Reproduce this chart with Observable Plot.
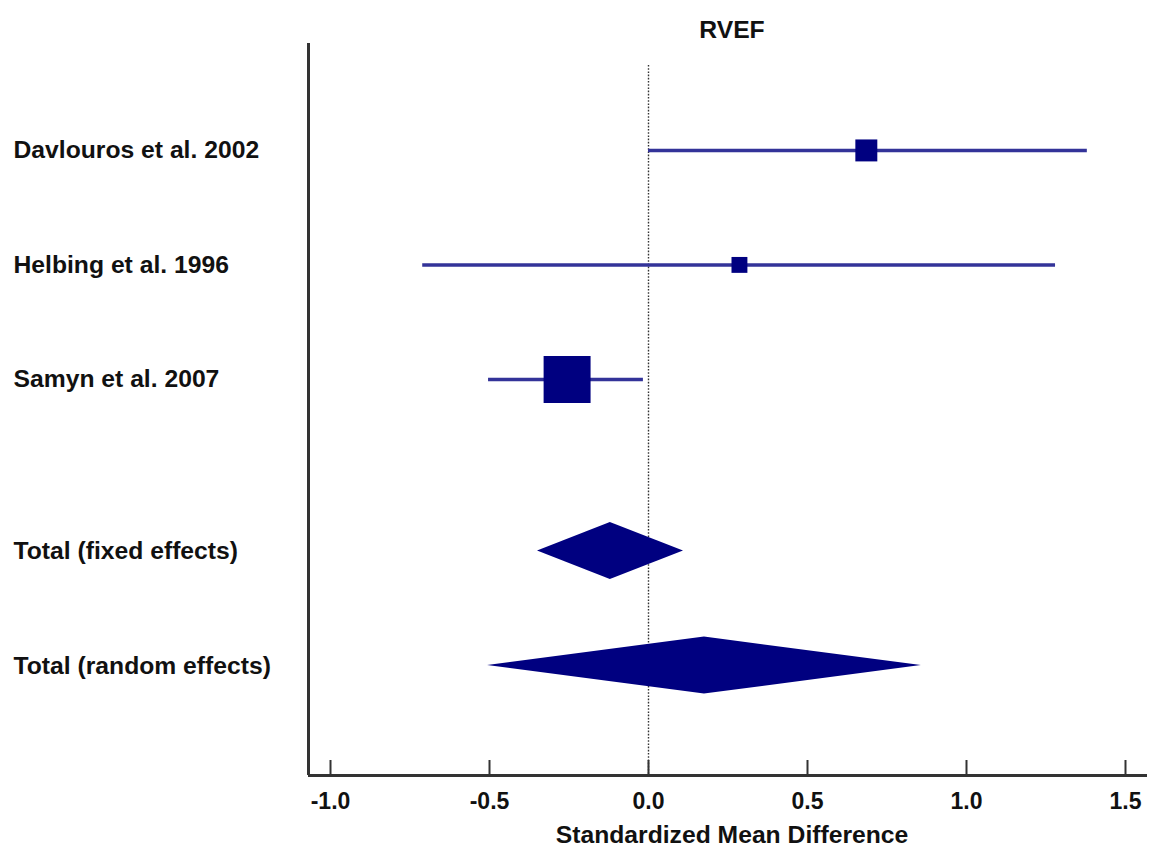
<!DOCTYPE html>
<html>
<head>
<meta charset="utf-8">
<script src="https://cdn.jsdelivr.net/npm/d3@7"></script>
<script src="https://cdn.jsdelivr.net/npm/@observablehq/plot@0.6"></script>
<style>
  html, body { margin: 0; padding: 0; background: #fff; }
  #chart svg { display: block; }
</style>
</head>
<body>
<div id="chart"></div>
<script>
// ---- Data ----
const studies = ["Davlouros et al. 2002", "Helbing et al. 1996", "Samyn et al. 2007"];
const studyEst = [0.685, 0.286, -0.256];
const studyLo = [0.0, -0.71, -0.503];
const studyHi = [1.38, 1.28, -0.016];
const studyWeight = [16.4, 8.6, 75.0];
const studyRow = [1, 2, 3];

const pooled = ["Total (fixed effects)", "Total (random effects)"];
const pooledEst = [-0.12, 0.176];
const pooledLo = [-0.349, -0.506];
const pooledHi = [0.11, 0.858];
const pooledRow = [4.5, 5.5];

const xTicks = [-1.0, -0.5, 0.0, 0.5, 1.0, 1.5];
const titleText = "RVEF";
const xLabel = "Standardized Mean Difference";

// ---- Layout / style ----
const W = 1154, H = 852;
const mTop = 43, mBottom = 77, mLeft = 308, mRight = 7;
const xDomain = [-1.0692, 1.5692];
const yDomain = [0.066, 6.46];
const plotH = H - mTop - mBottom;
const pxToY = (yDomain[1] - yDomain[0]) / plotH;
const font = "'Liberation Sans', Arial, Helvetica, sans-serif";

const studyData = studies.map((s, i) => ({
  label: s, est: studyEst[i], lo: studyLo[i], hi: studyHi[i], w: studyWeight[i], row: studyRow[i]
}));
const pooledData = pooled.map((s, i) => ({
  label: s, est: pooledEst[i], lo: pooledLo[i], hi: pooledHi[i], row: pooledRow[i]
}));
const halfH = 28.5 * pxToY;
const diamondPts = pooledData.flatMap(d => [
  {z: d.label, y: d.row - halfH, x1: d.est, x2: d.est},
  {z: d.label, y: d.row, x1: d.lo, x2: d.hi},
  {z: d.label, y: d.row + halfH, x1: d.est, x2: d.est}
]);
const allLabels = [...studyData, ...pooledData];

const chart = Plot.plot({
  width: W,
  height: H,
  marginTop: mTop,
  marginBottom: mBottom,
  marginLeft: mLeft,
  marginRight: mRight,
  style: {fontFamily: font, background: "#fff", color: "#111"},
  x: {domain: xDomain},
  y: {domain: yDomain, reverse: true, axis: null},
  r: {type: "sqrt", domain: [0, 75], range: [0, 26.5]},
  marks: [
    // dotted zero line
    Plot.ruleX([0], {y1: yDomain[0] + 22 * pxToY, y2: yDomain[1], stroke: "#333", strokeWidth: 1.4, strokeDasharray: "1.6,1.6"}),
    // confidence intervals
    Plot.ruleY(studyData, {y: "row", x1: "lo", x2: "hi", stroke: "#333399", strokeWidth: 3.5}),
    // study squares
    Plot.dot(studyData, {x: "est", y: "row", r: "w", symbol: "square", fill: "#000080", stroke: "none"}),
    // pooled diamonds
    Plot.areaX(diamondPts, {y: "y", x1: "x1", x2: "x2", z: "z", fill: "#000080", curve: "linear"}),
    // row labels
    Plot.text(allLabels, {y: "row", text: "label", frameAnchor: "left", dx: 13 - mLeft, textAnchor: "start",
      fontSize: 24.7, fontWeight: "bold", fill: "#111"}),
    // axis frame lines
    Plot.ruleX([xDomain[0]], {stroke: "#333", strokeWidth: 3}),
    Plot.ruleY([yDomain[1]], {stroke: "#333", strokeWidth: 3}),
    // inward ticks
    Plot.ruleX(xTicks, {x: d => d, y1: yDomain[1], y2: yDomain[1] - 15 * pxToY, stroke: "#333", strokeWidth: 2}),
    Plot.axisX(xTicks, {tickSize: 0, tickPadding: 17, tickFormat: d => d.toFixed(1), fontSize: 23, fontWeight: "bold", fill: "#111", label: null}),
    // x label
    Plot.text([xLabel], {frameAnchor: "bottom", dy: 67, dx: 4, fontSize: 24.7, fontWeight: "bold", fill: "#111"}),
    // title
    Plot.text([titleText], {frameAnchor: "top", dy: -23, dx: 4, fontSize: 24.7, fontWeight: "bold", fill: "#111"})
  ]
});
document.getElementById("chart").appendChild(chart);
</script>
</body>
</html>
